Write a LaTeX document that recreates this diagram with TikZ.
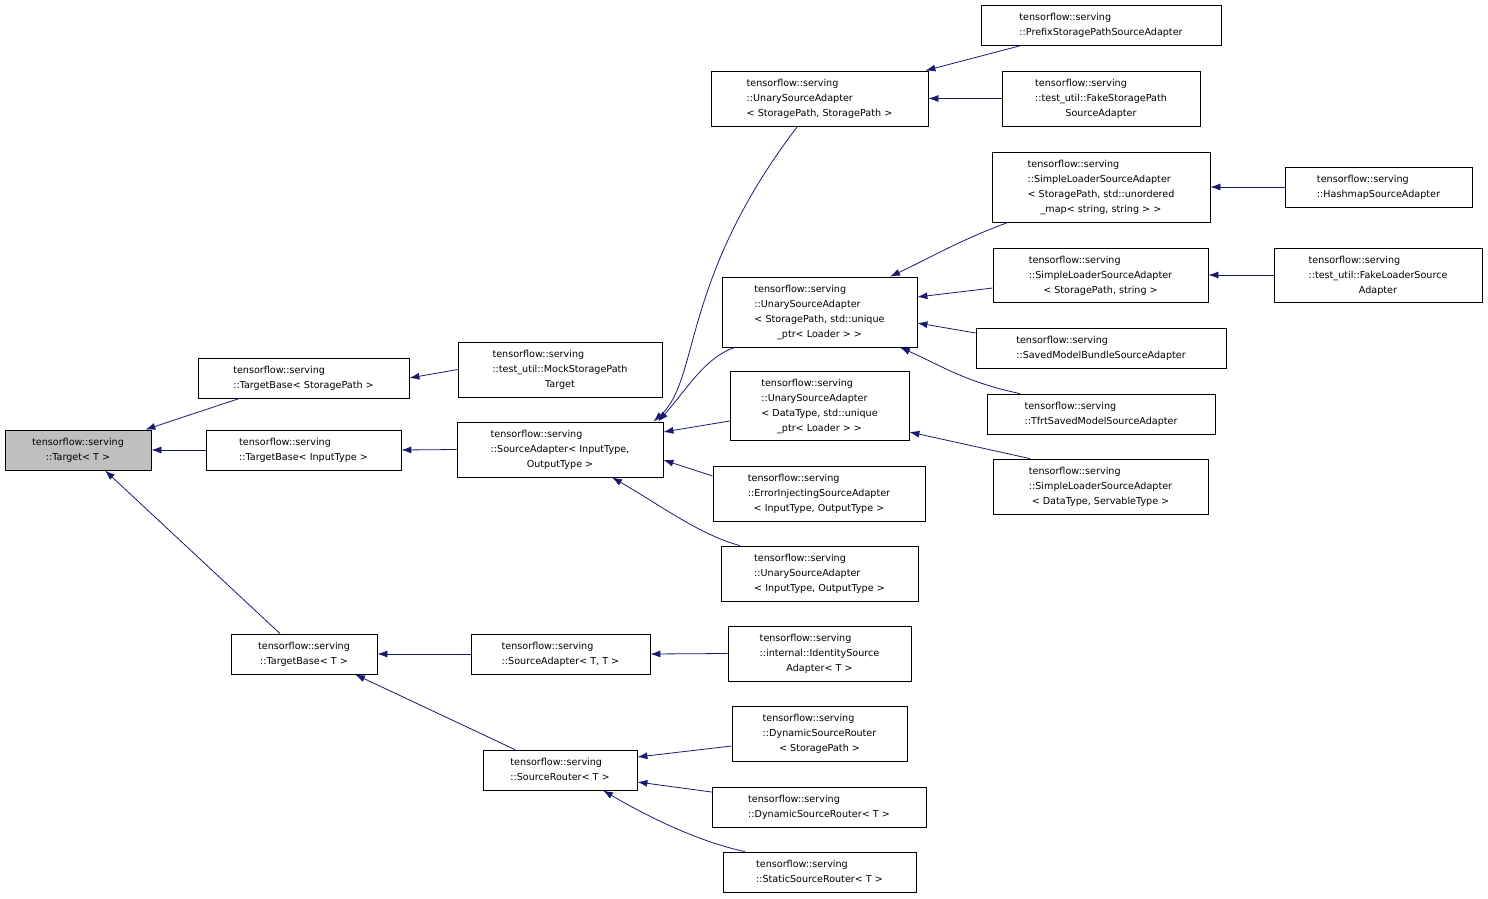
\documentclass[tikz,border=0pt]{standalone}
\usepackage{fontspec}
\setmainfont{DejaVu Sans}
\usetikzlibrary{arrows.meta}
\definecolor{edgec}{HTML}{191970}
\newcommand\dx[2]{\begin{tabular}{@{}l@{}}#1\\\multicolumn{1}{@{}c@{}}{#2}\end{tabular}}
\newcommand\bx[7][]{\node[box,#1,minimum width={(#5-#3)*1pt},minimum height={(#6-#4)*1pt}] (#2) at ({(#3+#5)/2},{(#4+#6)/2}) {#7};}
\begin{document}
\begin{tikzpicture}[x=1pt,y=-1pt,
  box/.style={draw=black,line width=0.8pt,inner sep=0pt,font=\fontsize{9.6}{15}\selectfont},
  edge/.style={draw=edgec,line width=0.8pt,{Latex[length=10pt,width=7pt]}-}]
\useasboundingbox (0,0) rectangle (1488,899);
\bx[fill={rgb,255:red,191;green,191;blue,191}]{T}{5}{430}{151}{470}{\dx{tensorflow::serving}{::Target< T >}}
\bx{TBSP}{198}{358}{409}{398}{\dx{tensorflow::serving}{::TargetBase< StoragePath >}}
\bx{TBIT}{206}{430}{401}{470}{\dx{tensorflow::serving}{::TargetBase< InputType >}}
\bx{TBT}{231}{634}{377}{674}{\dx{tensorflow::serving}{::TargetBase< T >}}
\bx{Mock}{458}{342}{662}{397}{\dx{tensorflow::serving\\::test\_util::MockStoragePath}{Target}}
\bx{SA}{457}{422}{663}{477}{\dx{tensorflow::serving\\::SourceAdapter< InputType,}{OutputType >}}
\bx{SATT}{471}{634}{650}{674}{\dx{tensorflow::serving}{::SourceAdapter< T, T >}}
\bx{SR}{483}{750}{637}{790}{\dx{tensorflow::serving}{::SourceRouter< T >}}
\bx{USP}{711}{71}{928}{126}{\dx{tensorflow::serving\\::UnarySourceAdapter}{< StoragePath, StoragePath >}}
\bx{USPL}{722}{277}{917}{347}{\dx{tensorflow::serving\\::UnarySourceAdapter\\< StoragePath, std::unique}{\_ptr< Loader > >}}
\bx{UDT}{730}{371}{909}{440}{\dx{tensorflow::serving\\::UnarySourceAdapter\\< DataType, std::unique}{\_ptr< Loader > >}}
\bx{EISA}{713}{466}{925}{521}{\dx{tensorflow::serving\\::ErrorInjectingSourceAdapter}{< InputType, OutputType >}}
\bx{UIO}{721}{546}{918}{601}{\dx{tensorflow::serving\\::UnarySourceAdapter}{< InputType, OutputType >}}
\bx{Id}{728}{626}{911}{681}{\dx{tensorflow::serving\\::internal::IdentitySource}{Adapter< T >}}
\bx{DSP}{732}{706}{907}{761}{\dx{tensorflow::serving\\::DynamicSourceRouter}{< StoragePath >}}
\bx{DT}{712}{787}{926}{827}{\dx{tensorflow::serving}{::DynamicSourceRouter< T >}}
\bx{SSR}{723}{852}{916}{892}{\dx{tensorflow::serving}{::StaticSourceRouter< T >}}
\bx{Pre}{981}{5}{1221}{45}{\dx{tensorflow::serving}{::PrefixStoragePathSourceAdapter}}
\bx{FSP}{1002}{71}{1200}{126}{\dx{tensorflow::serving\\::test\_util::FakeStoragePath}{SourceAdapter}}
\bx{SLM}{992}{152}{1210}{222}{\dx{tensorflow::serving\\::SimpleLoaderSourceAdapter\\< StoragePath, std::unordered}{\_map< string, string > >}}
\bx{SLS}{993}{248}{1208}{302}{\dx{tensorflow::serving\\::SimpleLoaderSourceAdapter}{< StoragePath, string >}}
\bx{SMB}{976}{328}{1226}{368}{\dx{tensorflow::serving}{::SavedModelBundleSourceAdapter}}
\bx{Tfrt}{987}{394}{1215}{434}{\dx{tensorflow::serving}{::TfrtSavedModelSourceAdapter}}
\bx{SLD}{993}{459}{1208}{514}{\dx{tensorflow::serving\\::SimpleLoaderSourceAdapter}{< DataType, ServableType >}}
\bx{Hash}{1285}{167}{1472}{207}{\dx{tensorflow::serving}{::HashmapSourceAdapter}}
\bx{FL}{1274}{248}{1482}{302}{\dx{tensorflow::serving\\::test\_util::FakeLoaderSource}{Adapter}}
% edges
\draw[edge] ([xshift=-6]T.north east) -- ([xshift=42]TBSP.south west);
\draw[edge] (T.east) -- (TBIT.west);
\draw[edge] ([xshift=27]T.south) -- ([xshift=-24]TBT.north);
\draw[edge] (TBSP.east) -- (Mock.west);
\draw[edge] (TBIT.east) -- (SA.west);
\draw[edge] (TBT.east) -- (SATT.west);
\draw[edge] ([xshift=51]TBT.south) -- ([xshift=-45]SR.north);
\draw[edge] ([xshift=-10]SA.north east) .. controls (700,380) and (680,280) .. ([xshift=-22]USP.south);
\draw[edge] ([xshift=-5]SA.north east) .. controls (690,385) and (705,358) .. ([xshift=13]USPL.south west);
\draw[edge] ([yshift=17.5]SA.east) -- ([yshift=-15.5]UDT.west);
\draw[edge] ([yshift=-10.5]SA.east) -- ([yshift=17.5]EISA.west);
\draw[edge] ([xshift=52]SA.south) .. controls (660,505) and (700,535) .. ([xshift=-79.5]UIO.north);
\draw[edge] (SATT.east) -- (Id.west);
\draw[edge] ([yshift=13]SR.east) -- ([yshift=-12.5]DSP.west);
\draw[edge] ([yshift=-12]SR.east) -- ([yshift=15]DT.west);
\draw[edge] ([xshift=43]SR.south) .. controls (650,818) and (700,842) .. ([xshift=-74.5]SSR.north);
\draw[edge] ([xshift=-3]USP.north east) -- ([xshift=41]Pre.south west);
\draw[edge] (USP.east) -- (FSP.west);
\draw[edge] ([xshift=70.5]USPL.north) .. controls (930,258) and (960,240) .. ([xshift=-93]SLM.south);
\draw[edge] ([yshift=15]USPL.east) -- ([yshift=-13]SLS.west);
\draw[edge] ([yshift=-11]USPL.east) -- ([yshift=15]SMB.west);
\draw[edge] ([xshift=80.5]USPL.south) .. controls (940,365) and (965,382) .. ([xshift=-81]Tfrt.north);
\draw[edge] ([yshift=-26.5]UDT.east) -- ([xshift=-70.5]SLD.north);
\draw[edge] (SLM.east) -- (Hash.west);
\draw[edge] (SLS.east) -- (FL.west);
\end{tikzpicture}
\end{document}
